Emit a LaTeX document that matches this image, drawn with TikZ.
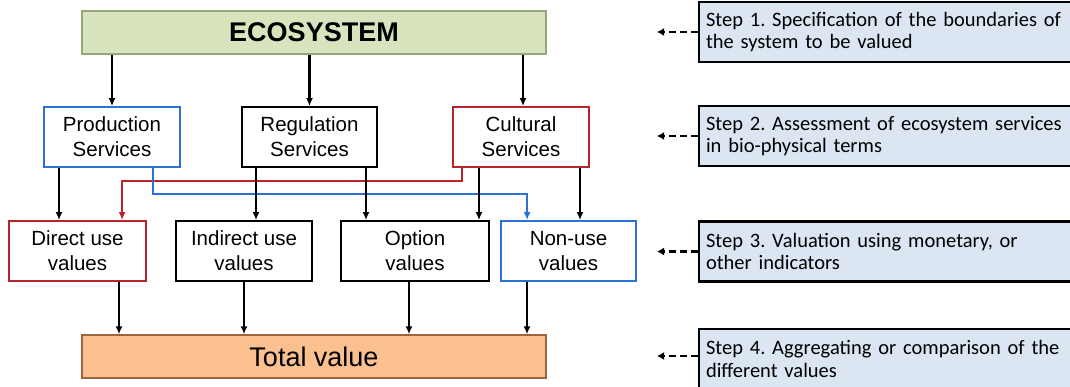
\documentclass[tikz,border=0pt]{standalone}
\usepackage{fontspec}
\setmainfont{Liberation Sans}
\newfontfamily\stepfont{Carlito}
\usetikzlibrary{arrows.meta}
\definecolor{ecofill}{HTML}{D7E4BD}
\definecolor{ecodraw}{HTML}{93A87A}
\definecolor{totfill}{HTML}{FAC090}
\definecolor{totdraw}{HTML}{A0643C}
\definecolor{myblue}{HTML}{2A72D4}
\definecolor{myred}{HTML}{B7242A}
\definecolor{stepfill}{HTML}{DCE6F2}
\tikzset{
  box/.style={draw, line width=1.8pt, minimum height=60pt, inner sep=0pt, align=center,
    font=\fontsize{20.5}{25}\selectfont},
  bigbox/.style={line width=1.4pt, minimum width=464pt, minimum height=43pt, inner sep=0pt,
    font=\fontsize{27}{30}\selectfont},
  stepbox/.style={draw=black, fill=stepfill, line width=2.4pt, minimum width=381pt, minimum height=60pt,
    text width=367pt, align=left, inner sep=0pt, font=\stepfont\fontsize{20.5}{22.5}\selectfont},
  arr/.style={line width=2.2pt, -{Latex[length=8pt,width=7pt]}},
  darr/.style={line width=2.6pt, dash pattern=on 7pt off 4pt, -{Latex[length=7pt,width=8pt]}}
}
\begin{document}
\frenchspacing
\begin{tikzpicture}[x=1pt,y=-1pt]
\clip (0,0) rectangle (1070,387);
\fill[white] (0,0) rectangle (1070,387);

\node[bigbox, draw=ecodraw, fill=ecofill, font=\bfseries\fontsize{27}{30}\selectfont] (eco) at (314,32.5) {ECOSYSTEM};
\node[box, draw=myblue, minimum width=136pt] (prod) at (112,137) {Production\\Services};
\node[box, draw=black, minimum width=135pt] (reg) at (309.5,137) {Regulation\\Services};
\node[box, draw=myred, minimum width=136pt] (cult) at (521,137) {Cultural\\Services};

\node[box, draw=myred, minimum width=137pt] (direct) at (77.5,251) {Direct use\\values};
\node[box, draw=black, minimum width=136pt] (indirect) at (244,251) {Indirect use\\values};
\node[box, draw=black, minimum width=148pt] (option) at (415,251) {Option\\values};
\node[box, draw=myblue, minimum width=135pt] (nonuse) at (568.5,251) {Non-use\\values};

\node[bigbox, draw=totdraw, fill=totfill] (total) at (314,356.5) {Total value};

% ecosystem to services
\draw[arr] (eco.south -| prod.north) -- (prod.north);
\draw[arr] (eco.south -| reg.north) -- (reg.north);
\draw[arr] ([xshift=2]eco.south -| cult.north) -- ([xshift=2]cult.north);

% coloured connectors
\draw[myred, line width=2pt, -{Latex[length=8pt,width=7pt]}]
  ([xshift=10]cult.south west) -- ++(0,13) -| ([xshift=114]direct.north west);
\draw[myblue, line width=2pt, -{Latex[length=8pt,width=7pt]}]
  ([xshift=110]prod.south west) -- ++(0,26) -| ([xshift=27]nonuse.north west);

% services to values
\draw[arr] ([xshift=-53]prod.south) -- ([xshift=-53]prod.south |- direct.north);
\draw[arr] ([xshift=-53.5]reg.south) -- ([xshift=-53.5]reg.south |- indirect.north);
\draw[arr] ([xshift=56.5]reg.south) -- ([xshift=56.5]reg.south |- option.north);
\draw[arr] ([xshift=-42]cult.south) -- ([xshift=-42]cult.south |- option.north);
\draw[arr] ([xshift=59]cult.south) -- ([xshift=59]cult.south |- nonuse.north);

% values to total
\draw[arr] ([xshift=41.5]direct.south) -- ([xshift=41.5]direct.south |- total.north);
\draw[arr] (indirect.south) -- (indirect.south |- total.north);
\draw[arr] ([xshift=-6]option.south) -- ([xshift=-6]option.south |- total.north);
\draw[arr] ([xshift=-41.5]nonuse.south) -- ([xshift=-41.5]nonuse.south |- total.north);

% steps
\node[stepbox] (s1) at (889.5,32) {Step 1. Specification of the boundaries of\\the system to be valued};
\node[stepbox] (s2) at (889.5,136) {Step 2. Assessment of ecosystem services\\in bio-physical terms};
\node[stepbox] (s3) at (889.5,251.5) {Step 3. Valuation using monetary, or\\other indicators};
\node[stepbox] (s4) at (889.5,359) {Step 4. Aggregating or comparison of the\\different values};

\coordinate (t1) at (657,32);
\coordinate (t2) at (657,136);
\coordinate (t3) at (657,251.5);
\coordinate (t4) at (657,356);
\draw[darr] (s1.west) -- (t1);
\draw[darr] (s2.west) -- (t2);
\draw[darr] (s3.west) -- (t3);
\draw[darr] (s4.west |- t4) -- (t4);
\end{tikzpicture}
\end{document}
